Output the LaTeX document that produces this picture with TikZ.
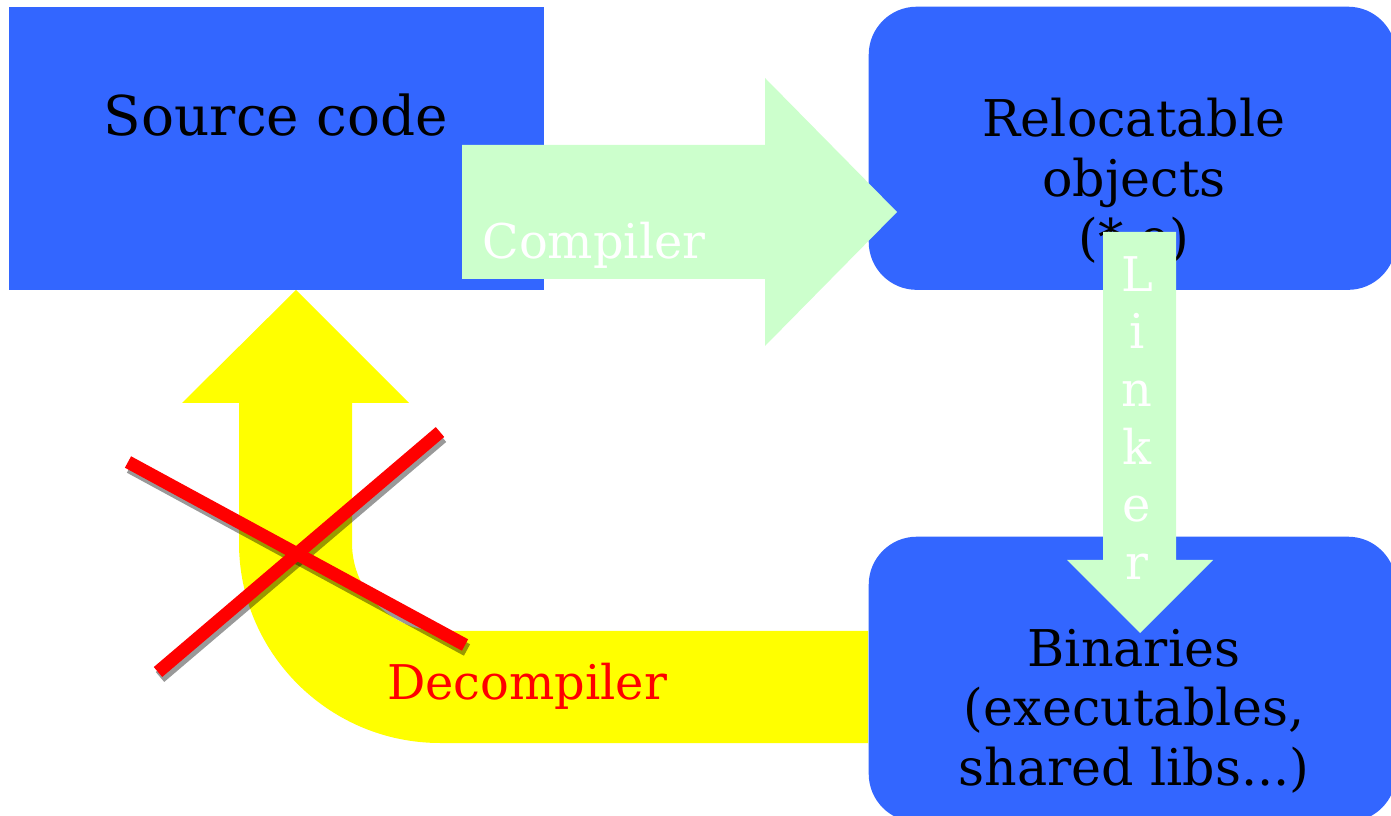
\documentclass[tikz,border=0pt]{standalone}
\usepackage{fontspec}
\setmainfont{DejaVu Serif}
\usepackage{tikz}
\usetikzlibrary{positioning}

\definecolor{boxblue}{HTML}{3366FF}
\definecolor{arrowgreen}{HTML}{CCFFCC}
\definecolor{backyellow}{HTML}{FFFF00}

\tikzset{
  stage/.style={fill=boxblue, inner sep=0pt, minimum width=5.27cm, minimum height=2.83cm},
  stagetext/.style={align=center, font=\fontsize{14.4}{16.9}\selectfont},
  tooltext/.style={font=\fontsize{13.6}{16.4}\selectfont},
  cross/.style={line width=3.7pt, red},
  crossshadow/.style={line width=3.7pt, black, opacity=0.4}
}

\begin{document}
\begin{tikzpicture}[x=0.01cm, y=-0.01cm]
\useasboundingbox (0,0) rectangle (1391,816);
% decompiler arrow, behind everything
\fill[backyellow] (868,743) -- (440,743) .. controls (329.5,743) and (239,653.5) .. (239,543)
  -- (239,403) -- (182,403) -- (296,290) -- (409,403) -- (352,403) -- (352,543)
  .. controls (352,591.6) and (391.4,631) .. (440,631) -- (868,631) -- cycle;
% the three stages
\node[stage, anchor=north west, minimum width=5.35cm] (src) at (8,6) {};
\node[stage, anchor=north west, rounded corners=0.48cm] (reloc) at (868,6) {};
\node[stage, anchor=north west, rounded corners=0.48cm, minimum height=2.85cm] (bin) at (868,536) {};
\node[font=\fontsize{15.6}{19}\selectfont] (srctext) at (276,115) {Source code};
\node[stagetext] (reloctext) at (1134,181) {Relocatable\\objects\\(*.o)};
\node[stagetext] (bintext) at (1134,711) {Binaries\\(executables,\\shared libs...)};
% compiler and linker
\fill[arrowgreen] (462,145) -- (765,145) -- (765,78) -- (897,212) -- (765,346) -- (765,279) -- (462,279) -- cycle;
\fill[arrowgreen] (1103,232) -- (1176,232) -- (1176,560) -- (1213,560) -- (1140,633) -- (1067,560) -- (1103,560) -- cycle;
\node[tooltext, white] (compiler) at (594,245) {Compiler};
\node[tooltext, white, align=center] (linker) at (1137,418) {L\\i\\n\\k\\e\\r};
\node[tooltext, red] (decompiler) at (527,686) {Decompiler};
% crossed out
\coordinate (xa) at (128,462);
\coordinate (xb) at (465,645);
\coordinate (xc) at (158,672);
\coordinate (xd) at (440,432);
\draw[crossshadow] ([shift={(2,5)}]xa) -- ([shift={(2,5)}]xb);
\draw[crossshadow] ([shift={(2,5)}]xc) -- ([shift={(2,5)}]xd);
\draw[cross] (xa) -- (xb);
\draw[cross] (xc) -- (xd);
\end{tikzpicture}
\end{document}
